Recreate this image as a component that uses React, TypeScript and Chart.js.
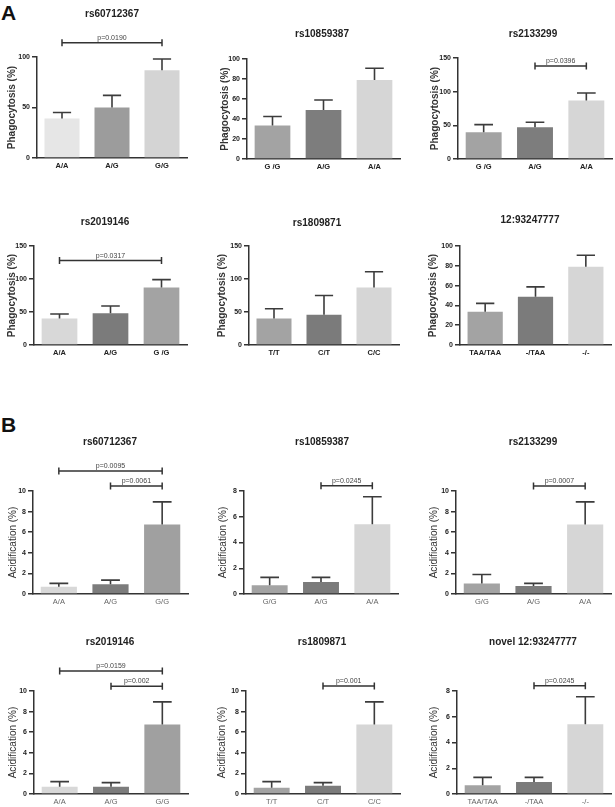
import React, { useEffect, useRef } from "react";
import { Chart, registerables } from "chart.js";

Chart.register(...registerables);

const FONT = "'Liberation Sans', Arial, Helvetica, sans-serif";

// ---------- Panel A : Phagocytosis ----------
const a1Title = "rs60712367";
const a1Categories = ["A/A", "A/G", "G/G"];
const a1Means = [39, 50, 87];
const a1Upper = [45, 62, 98];
const a1Ticks = [0, 50, 100];
const a1Colors = ["#e6e6e6", "#9c9c9c", "#d4d4d4"];
const a1Brackets = [{ from: 0, to: 2, value: 114, label: "p=0.0190" }];

const a2Title = "rs10859387";
const a2Categories = ["G /G", "A/G", "A/A"];
const a2Means = [33.6, 49, 79];
const a2Upper = [42.5, 59, 90.7];
const a2Ticks = [0, 20, 40, 60, 80, 100];
const a2Colors = ["#a3a3a3", "#7d7d7d", "#d6d6d6"];
const a2Brackets: any[] = [];

const a3Title = "rs2133299";
const a3Categories = ["G /G", "A/G", "A/A"];
const a3Means = [39.6, 47, 87];
const a3Upper = [51, 54.5, 98];
const a3Ticks = [0, 50, 100, 150];
const a3Colors = ["#a3a3a3", "#7d7d7d", "#d6d6d6"];
const a3Brackets = [{ from: 1, to: 2, value: 138, label: "p=0.0396" }];

const a4Title = "rs2019146";
const a4Categories = ["A/A", "A/G", "G /G"];
const a4Means = [40, 48, 87];
const a4Upper = [47, 59, 99];
const a4Ticks = [0, 50, 100, 150];
const a4Colors = ["#d8d8d8", "#7b7b7b", "#a3a3a3"];
const a4Brackets = [{ from: 0, to: 2, value: 128, label: "p=0.0317" }];

const a5Title = "rs1809871";
const a5Categories = ["T/T", "C/T", "C/C"];
const a5Means = [40, 46, 87];
const a5Upper = [55, 75, 111];
const a5Ticks = [0, 50, 100, 150];
const a5Colors = ["#a3a3a3", "#7b7b7b", "#d6d6d6"];
const a5Brackets: any[] = [];

const a6Title = "12:93247777";
const a6Categories = ["TAA/TAA", "-/TAA", "-/-"];
const a6Means = [33.6, 48.7, 79];
const a6Upper = [42, 58.7, 90.6];
const a6Ticks = [0, 20, 40, 60, 80, 100];
const a6Colors = ["#a3a3a3", "#7b7b7b", "#d6d6d6"];
const a6Brackets: any[] = [];

// ---------- Panel B : Acidification ----------
const b1Title = "rs60712367";
const b1Categories = ["A/A", "A/G", "G/G"];
const b1Means = [0.7, 0.94, 6.74];
const b1Upper = [1.03, 1.35, 8.94];
const b1Ticks = [0, 2, 4, 6, 8, 10];
const b1Colors = ["#d8d8d8", "#7c7c7c", "#a0a0a0"];
const b1Brackets = [
  { from: 0, to: 2, value: 11.94, label: "p=0.0095" },
  { from: 1, to: 2, value: 10.48, label: "p=0.0061" },
];

const b2Title = "rs10859387";
const b2Categories = ["G/G", "A/G", "A/A"];
const b2Means = [0.67, 0.93, 5.41];
const b2Upper = [1.29, 1.29, 7.55];
const b2Ticks = [0, 2, 4, 6, 8];
const b2Colors = ["#a3a3a3", "#7b7b7b", "#d6d6d6"];
const b2Brackets = [{ from: 1, to: 2, value: 8.4, label: "p=0.0245" }];

const b3Title = "rs2133299";
const b3Categories = ["G/G", "A/G", "A/A"];
const b3Means = [1.03, 0.77, 6.74];
const b3Upper = [1.9, 1.03, 8.94];
const b3Ticks = [0, 2, 4, 6, 8, 10];
const b3Colors = ["#a3a3a3", "#7b7b7b", "#d6d6d6"];
const b3Brackets = [{ from: 1, to: 2, value: 10.48, label: "p=0.0007" }];

const b4Title = "rs2019146";
const b4Categories = ["A/A", "A/G", "G/G"];
const b4Means = [0.71, 0.71, 6.74];
const b4Upper = [1.2, 1.1, 8.94];
const b4Ticks = [0, 2, 4, 6, 8, 10];
const b4Colors = ["#d8d8d8", "#7c7c7c", "#a0a0a0"];
const b4Brackets = [
  { from: 0, to: 2, value: 11.94, label: "p=0.0159" },
  { from: 1, to: 2, value: 10.45, label: "p=0.002" },
];

const b5Title = "rs1809871";
const b5Categories = ["T/T", "C/T", "C/C"];
const b5Means = [0.6, 0.8, 6.74];
const b5Upper = [1.2, 1.1, 8.94];
const b5Ticks = [0, 2, 4, 6, 8, 10];
const b5Colors = ["#a3a3a3", "#7b7b7b", "#d6d6d6"];
const b5Brackets = [{ from: 1, to: 2, value: 10.48, label: "p=0.001" }];

const b6Title = "novel 12:93247777";
const b6Categories = ["TAA/TAA", "-/TAA", "-/-"];
const b6Means = [0.67, 0.93, 5.41];
const b6Upper = [1.29, 1.29, 7.55];
const b6Ticks = [0, 2, 4, 6, 8];
const b6Colors = ["#a3a3a3", "#7b7b7b", "#d6d6d6"];
const b6Brackets = [{ from: 1, to: 2, value: 8.4, label: "p=0.0245" }];

const phagoLabel = "Phagocytosis (%)";
const acidLabel = "Acidification (%)";

// layout: canvas rect (cx,cy,cw,ch), plot rect (pl,pt,pr,pb), y-title x, chart title position
const panels = [
  { title: a1Title, cats: a1Categories, means: a1Means, upper: a1Upper, ticks: a1Ticks, colors: a1Colors, brackets: a1Brackets, yLabel: phagoLabel, A: true,
    cx: 0, cy: 0, cw: 200, ch: 180, pl: 37, pt: 57, pr: 187, pb: 158, ytx: 12, tx: 112, ty: 14 },
  { title: a2Title, cats: a2Categories, means: a2Means, upper: a2Upper, ticks: a2Ticks, colors: a2Colors, brackets: a2Brackets, yLabel: phagoLabel, A: true,
    cx: 200, cy: 0, cw: 205, ch: 180, pl: 247, pt: 59, pr: 400, pb: 159, ytx: 225, tx: 322, ty: 34 },
  { title: a3Title, cats: a3Categories, means: a3Means, upper: a3Upper, ticks: a3Ticks, colors: a3Colors, brackets: a3Brackets, yLabel: phagoLabel, A: true,
    cx: 405, cy: 0, cw: 210, ch: 180, pl: 458, pt: 58, pr: 612, pb: 159, ytx: 435, tx: 533, ty: 34 },
  { title: a4Title, cats: a4Categories, means: a4Means, upper: a4Upper, ticks: a4Ticks, colors: a4Colors, brackets: a4Brackets, yLabel: phagoLabel, A: true,
    cx: 0, cy: 180, cw: 200, ch: 190, pl: 34, pt: 246, pr: 187, pb: 345, ytx: 12, tx: 105, ty: 222 },
  { title: a5Title, cats: a5Categories, means: a5Means, upper: a5Upper, ticks: a5Ticks, colors: a5Colors, brackets: a5Brackets, yLabel: phagoLabel, A: true,
    cx: 200, cy: 180, cw: 205, ch: 190, pl: 249, pt: 246, pr: 399, pb: 345, ytx: 222, tx: 317, ty: 223 },
  { title: a6Title, cats: a6Categories, means: a6Means, upper: a6Upper, ticks: a6Ticks, colors: a6Colors, brackets: a6Brackets, yLabel: phagoLabel, A: true,
    cx: 405, cy: 180, cw: 210, ch: 190, pl: 460, pt: 246, pr: 611, pb: 345, ytx: 433, tx: 530, ty: 220 },
  { title: b1Title, cats: b1Categories, means: b1Means, upper: b1Upper, ticks: b1Ticks, colors: b1Colors, brackets: b1Brackets, yLabel: acidLabel, A: false,
    cx: 0, cy: 390, cw: 200, ch: 222, pl: 33, pt: 491, pr: 188, pb: 594, ytx: 13, tx: 110, ty: 442 },
  { title: b2Title, cats: b2Categories, means: b2Means, upper: b2Upper, ticks: b2Ticks, colors: b2Colors, brackets: b2Brackets, yLabel: acidLabel, A: false,
    cx: 200, cy: 390, cw: 205, ch: 222, pl: 244, pt: 491, pr: 398, pb: 594, ytx: 223, tx: 322, ty: 442 },
  { title: b3Title, cats: b3Categories, means: b3Means, upper: b3Upper, ticks: b3Ticks, colors: b3Colors, brackets: b3Brackets, yLabel: acidLabel, A: false,
    cx: 405, cy: 390, cw: 210, ch: 222, pl: 456, pt: 491, pr: 611, pb: 594, ytx: 434, tx: 533, ty: 442 },
  { title: b4Title, cats: b4Categories, means: b4Means, upper: b4Upper, ticks: b4Ticks, colors: b4Colors, brackets: b4Brackets, yLabel: acidLabel, A: false,
    cx: 0, cy: 612, cw: 200, ch: 195, pl: 34, pt: 691, pr: 188, pb: 794, ytx: 13, tx: 110, ty: 642 },
  { title: b5Title, cats: b5Categories, means: b5Means, upper: b5Upper, ticks: b5Ticks, colors: b5Colors, brackets: b5Brackets, yLabel: acidLabel, A: false,
    cx: 200, cy: 612, cw: 205, ch: 195, pl: 246, pt: 691, pr: 400, pb: 794, ytx: 222, tx: 322, ty: 642 },
  { title: b6Title, cats: b6Categories, means: b6Means, upper: b6Upper, ticks: b6Ticks, colors: b6Colors, brackets: b6Brackets, yLabel: acidLabel, A: false,
    cx: 405, cy: 612, cw: 210, ch: 195, pl: 457, pt: 691, pr: 611, pb: 794, ytx: 434, tx: 533, ty: 642 },
];

function Panel({ p }: { p: any }) {
  const ref = useRef<HTMLCanvasElement>(null);
  useEffect(() => {
    if (!ref.current) return;
    const xH = 13;
    const yTitleSize = 10;
    const padLeft = p.ytx - p.cx - (yTitleSize * 1.2) / 2;
    const yW = p.pl - p.cx - padLeft;
    const overlay = {
      id: "overlay",
      afterDatasetsDraw(chart: any) {
        const { ctx, scales } = chart;
        const x = scales.x;
        const y = scales.y;
        const meta = chart.getDatasetMeta(0);
        ctx.save();
        // error bars (upper whisker only)
        ctx.strokeStyle = "#3c3c3c";
        ctx.lineWidth = 1.6;
        meta.data.forEach((el: any, i: number) => {
          const yTop = y.getPixelForValue(p.upper[i]);
          const half = el.width * 0.26;
          ctx.beginPath();
          ctx.moveTo(el.x, el.y);
          ctx.lineTo(el.x, yTop);
          ctx.moveTo(el.x - half, yTop);
          ctx.lineTo(el.x + half, yTop);
          ctx.stroke();
        });
        // significance brackets
        p.brackets.forEach((b: any) => {
          const x1 = x.getPixelForValue(b.from);
          const x2 = x.getPixelForValue(b.to);
          const yb = y.getPixelForValue(b.value);
          ctx.strokeStyle = "#333";
          ctx.lineWidth = 1.5;
          ctx.beginPath();
          ctx.moveTo(x1, yb);
          ctx.lineTo(x2, yb);
          ctx.moveTo(x1, yb - 3.5);
          ctx.lineTo(x1, yb + 3.5);
          ctx.moveTo(x2, yb - 3.5);
          ctx.lineTo(x2, yb + 3.5);
          ctx.stroke();
          ctx.fillStyle = "#444";
          ctx.font = `7px ${FONT}`;
          ctx.textAlign = "center";
          ctx.textBaseline = "alphabetic";
          ctx.fillText(b.label, (x1 + x2) / 2, yb - 3);
        });
        // panel title
        ctx.fillStyle = "#222";
        ctx.font = `bold 10px ${FONT}`;
        ctx.textAlign = "center";
        ctx.textBaseline = "middle";
        ctx.fillText(p.title, p.tx - p.cx, p.ty - p.cy);
        ctx.restore();
      },
    };
    const ticks = p.ticks;
    const chart = new Chart(ref.current, {
      type: "bar",
      data: {
        labels: p.cats,
        datasets: [
          {
            data: p.means,
            backgroundColor: p.colors,
            borderWidth: 0,
            barPercentage: 0.7,
            categoryPercentage: 1,
          },
        ],
      },
      options: {
        animation: false,
        responsive: false,
        maintainAspectRatio: false,
        layout: {
          padding: {
            left: padLeft,
            top: p.pt - p.cy,
            right: p.cx + p.cw - p.pr,
            bottom: Math.max(0, p.cy + p.ch - p.pb - xH),
          },
        },
        plugins: {
          legend: { display: false },
          tooltip: { enabled: false },
          title: { display: false },
        },
        scales: {
          x: {
            grid: { display: false, drawTicks: false },
            border: { display: true, color: "#333", width: 1.5 },
            ticks: {
              color: p.A ? "#222" : "#666",
              font: { family: FONT, size: 7.5, weight: p.A ? "bold" : "normal" },
              padding: 3,
              autoSkip: false,
              maxRotation: 0,
            },
            afterFit: (s: any) => {
              s.height = xH;
            },
          },
          y: {
            min: 0,
            max: ticks[ticks.length - 1],
            ticks: {
              stepSize: ticks[1] - ticks[0],
              color: "#222",
              font: { family: FONT, size: 7, weight: "bold" },
              padding: 2,
            },
            grid: {
              display: true,
              drawOnChartArea: false,
              drawTicks: true,
              tickLength: 5,
              color: "#333",
              lineWidth: 1.5,
            },
            border: { display: true, color: "#333", width: 1.5 },
            title: {
              display: true,
              text: p.yLabel,
              color: "#333",
              padding: 0,
              font: { family: FONT, size: yTitleSize, weight: p.A ? "bold" : "normal" },
            },
            afterFit: (s: any) => {
              s.width = yW;
            },
          },
        },
      },
      plugins: [overlay],
    } as any);
    return () => chart.destroy();
  }, [p]);
  return (
    <canvas
      ref={ref}
      width={p.cw}
      height={p.ch}
      style={{ position: "absolute", left: p.cx, top: p.cy, width: p.cw, height: p.ch }}
    />
  );
}

export default function App() {
  return (
    <div
      style={{
        position: "fixed",
        left: 0,
        top: 0,
        width: 615,
        height: 807,
        background: "#fff",
        overflow: "hidden",
      }}
    >
      <div style={{ position: "absolute", left: 1, top: 2, font: `bold 21px ${FONT}`, lineHeight: "21px", color: "#111" }}>A</div>
      <div style={{ position: "absolute", left: 1, top: 414, font: `bold 21px ${FONT}`, lineHeight: "21px", color: "#111" }}>B</div>
      {panels.map((p, i) => (
        <Panel key={i} p={p} />
      ))}
    </div>
  );
}
